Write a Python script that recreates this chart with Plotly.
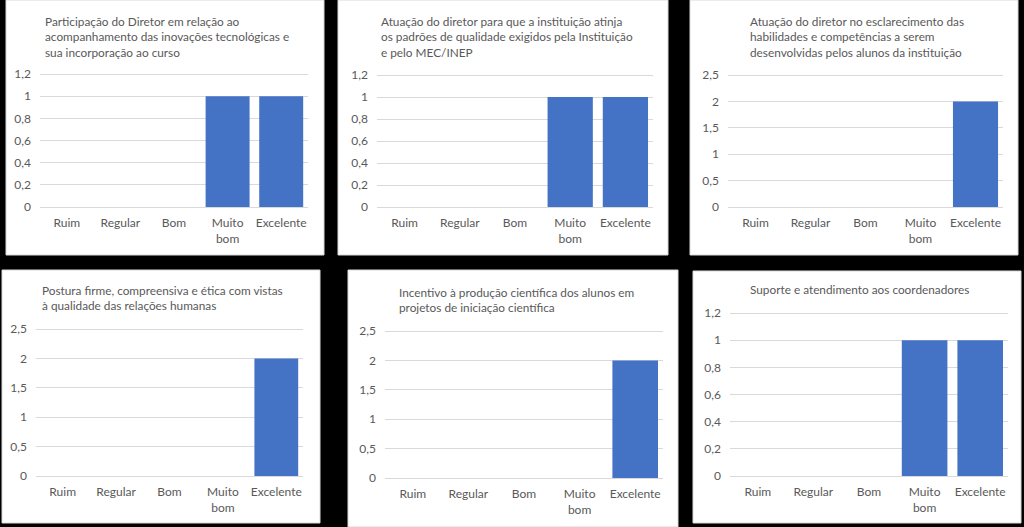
import plotly.graph_objects as go

W, H = 1024, 527

categories = ["Ruim", "Regular", "Bom", "Muito bom", "Excelente"]
category_labels = ["Ruim", "Regular", "Bom", "Muito<br>bom", "Excelente"]

titles = [
    "Participação do Diretor em relação ao<br>acompanhamento das inovações tecnológicas e<br>sua incorporação ao curso",
    "Atuação do diretor para que a instituição atinja<br>os padrões de qualidade exigidos pela Instituição<br>e pelo MEC/INEP",
    "Atuação do diretor no esclarecimento das<br>habilidades e competências a serem<br>desenvolvidas pelos alunos da instituição",
    "Postura firme, compreensiva e ética com vistas<br>à qualidade das relações humanas",
    "Incentivo à produção científica dos alunos em<br>projetos de iniciação científica",
    "Suporte e atendimento aos coordenadores",
]

values_inovacoes = [0, 0, 0, 1, 1]
values_padroes = [0, 0, 0, 1, 1]
values_habilidades = [0, 0, 0, 0, 2]
values_postura = [0, 0, 0, 0, 2]
values_incentivo = [0, 0, 0, 0, 2]
values_suporte = [0, 0, 0, 1, 1]

ticks_small = [0, 0.2, 0.4, 0.6, 0.8, 1, 1.2]
ticks_small_text = ["0", "0,2", "0,4", "0,6", "0,8", "1", "1,2"]
ticks_large = [0, 0.5, 1, 1.5, 2, 2.5]
ticks_large_text = ["0", "0,5", "1", "1,5", "2", "2,5"]

series = [values_inovacoes, values_padroes, values_habilidades,
          values_postura, values_incentivo, values_suporte]
tick_sets = [(ticks_small, ticks_small_text), (ticks_small, ticks_small_text),
             (ticks_large, ticks_large_text), (ticks_large, ticks_large_text),
             (ticks_large, ticks_large_text), (ticks_small, ticks_small_text)]

# layout in pixels
panels = [(6, 0, 324, 255), (338, 0, 668, 255), (690, 0, 1018, 255),
          (2, 270, 320, 523), (348, 270, 678, 527), (693, 271, 1021, 523)]
plots = [(40, 74, 308, 207), (377, 75, 653, 207), (728, 75, 1003, 207),
         (36, 329, 303, 476), (385, 331, 663, 478), (730, 313, 1008, 476)]
title_pos = [(43, 12, "left"), (379, 12, "left"), (748, 12, "left"),
             (40, 281, "left"), (397, 283, "left"), (859, 280, "center")]

FONT = "Lato"
GRAY = "#595959"
GRID = "#d9d9d9"
BAR = "#4472c4"
PAD = 2  # extra pixels above top gridline so it is drawn

fig = go.Figure()
layout = dict(
    template="none",
    width=W, height=H, margin=dict(l=0, r=0, t=0, b=0, pad=0),
    paper_bgcolor="black", plot_bgcolor="rgba(0,0,0,0)",
    showlegend=False, bargap=0.18,
    font=dict(family=FONT, color=GRAY, size=12),
)
shapes = []
annotations = []
for i in range(6):
    n = "" if i == 0 else str(i + 1)
    px0, py0, px1, py1 = plots[i]
    tv, tt = tick_sets[i]
    top = tv[-1] * (1 + PAD / (py1 - py0))
    fig.add_trace(go.Bar(x=categories, y=series[i], marker_color=BAR,
                         marker_line_width=0,
                         xaxis="x" + n, yaxis="y" + n))
    layout["xaxis" + n] = dict(
        domain=[px0 / W, px1 / W], anchor="y" + n,
        tickvals=categories, ticktext=category_labels,
        showgrid=False, showline=False, ticks="", zeroline=False,
        automargin=False, ticklabelstandoff=7,
        tickfont=dict(family=FONT, color=GRAY, size=12),
        fixedrange=True,
    )
    layout["yaxis" + n] = dict(
        domain=[(H - py1) / H, (H - py0 + PAD) / H], anchor="x" + n,
        range=[0, top], tickvals=tv, ticktext=tt,
        showgrid=True, gridcolor=GRID, gridwidth=1,
        zeroline=True, zerolinecolor=GRID, zerolinewidth=1,
        showline=False, ticks="", ticklabelstandoff=8,
        automargin=False,
        tickfont=dict(family=FONT, color=GRAY, size=12),
        fixedrange=True,
    )
    bx0, by0, bx1, by1 = panels[i]
    shapes.append(dict(type="rect", xref="paper", yref="paper",
                       x0=bx0 / W, x1=bx1 / W, y0=1 - by1 / H, y1=1 - by0 / H,
                       fillcolor="white", line=dict(color=GRID, width=1),
                       layer="below"))
    tx, ty, al = title_pos[i]
    annotations.append(dict(
        text=titles[i], xref="paper", yref="paper",
        x=tx / W, y=1 - ty / H, xanchor=al,
        yanchor="top", align=al, showarrow=False,
        font=dict(family=FONT, color=GRAY, size=11.8),
    ))

layout["shapes"] = shapes
layout["annotations"] = annotations
fig.update_layout(**layout)
fig.write_html("out.html")
